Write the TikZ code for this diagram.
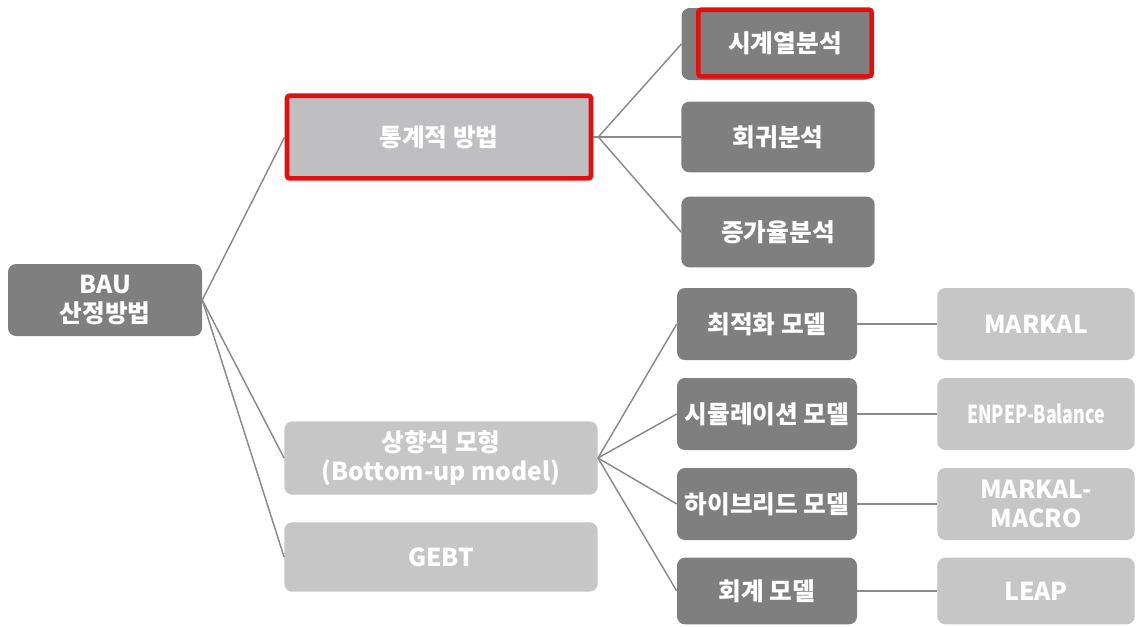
\documentclass[tikz,border=0pt]{standalone}
\usepackage{fontspec}
\setmainfont{Noto Sans CJK KR}
\definecolor{darkbox}{HTML}{7F7F7F}
\definecolor{lightbox}{HTML}{C6C6C6}
\definecolor{statbox}{HTML}{BFBFC2}
\definecolor{redline}{HTML}{E01010}
\definecolor{linkgray}{HTML}{8A8A8A}
\tikzset{
	dbox/.style={fill=darkbox, rounded corners=6pt, text=white, font=\bfseries\fontsize{18.5}{22}\selectfont, align=center, inner sep=0pt},
	lbox/.style={fill=lightbox, rounded corners=6pt, text=white, font=\bfseries\fontsize{18.5}{22}\selectfont, align=center, inner sep=0pt},
	link/.style={draw=linkgray, line width=1.1pt},
	redframe/.style={draw=redline, line width=3.5pt}
}
\begin{document}
\begin{tikzpicture}[x=0.75pt, y=-0.75pt]
	\useasboundingbox (0,0) rectangle (1136,626);
	% root
	\node[dbox, minimum width=145.5pt, minimum height=54pt] (bau) at (105,300) {BAU\\산정방법};
	% second level
	\node[dbox, fill=statbox, redframe, rounded corners=2pt, minimum width=228pt, minimum height=62pt] (stat) at (439,137) {통계적 방법};
	\node[lbox, minimum width=235pt, minimum height=55pt] (bu) at (441,458) {상향식 모형\\(Bottom-up model)};
	\node[lbox, minimum width=235pt, minimum height=52pt] (gebt) at (441,557) {GEBT};
	% statistical methods
	\node[dbox, minimum width=143pt, minimum height=54pt] (ts) at (777,44) {};
	\node[redframe, rounded corners=2pt, minimum width=130pt, minimum height=50pt, text=white, font=\bfseries\fontsize{18.5}{22}\selectfont, inner sep=0pt] (tsframe) at (785,43) {시계열분석};
	\node[dbox, minimum width=145pt, minimum height=53pt] (reg) at (778,137) {회귀분석};
	\node[dbox, minimum width=145pt, minimum height=53pt] (grow) at (778,232) {증가율분석};
	% bottom-up models
	\node[dbox, minimum width=135pt, minimum height=54pt] (opt) at (767,324) {최적화 모델};
	\node[dbox, minimum width=135pt, minimum height=54pt] (sim) at (767,414) {시뮬레이션 모델};
	\node[dbox, minimum width=135pt, minimum height=54pt] (hyb) at (767,504) {하이브리드 모델};
	\node[dbox, minimum width=135pt, minimum height=50pt] (acc) at (767,591) {회계 모델};
	% tools
	\node[lbox, minimum width=148pt, minimum height=54pt] (markal) at (1036,324) {MARKAL};
	\node[lbox, minimum width=148pt, minimum height=54pt] (enpep) at (1036,414) {\scalebox{0.72}[1]{ENPEP-Balance}};
	\node[lbox, minimum width=148pt, minimum height=54pt] (macro) at (1036,504) {MARKAL-\\MACRO};
	\node[lbox, minimum width=148pt, minimum height=50pt] (leap) at (1036,591) {LEAP};
	\path (stat.east) ++(5,0) coordinate (statj);
	\draw[link] (bau.east) -- (stat.west);
	\draw[link] (bau.east) -- (bu.west);
	\draw[link] (bau.east) -- (gebt.west);
	\draw[link] (stat.east) -- (statj);
	\foreach \n in {ts,reg,grow}
		\draw[link] (statj) -- (\n.west);
	\foreach \n in {opt,sim,hyb,acc}
		\draw[link] (bu.east) -- (\n.west);
	\draw[link] (opt) -- (markal);
	\draw[link] (sim) -- (enpep);
	\draw[link] (hyb) -- (macro);
	\draw[link] (acc) -- (leap);
\end{tikzpicture}
\end{document}
